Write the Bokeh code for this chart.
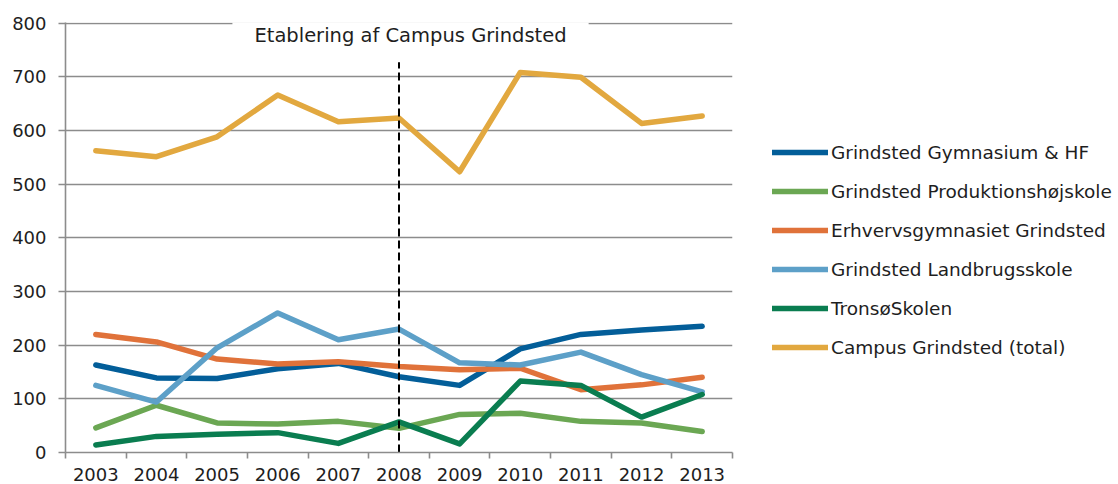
from bokeh.plotting import figure
from bokeh.models import FixedTicker, Label, Legend, LegendItem, Range1d
from bokeh.embed import file_html
from bokeh.resources import INLINE

years = [2003, 2004, 2005, 2006, 2007, 2008, 2009, 2010, 2011, 2012, 2013]
gymnasium = [163, 139, 138, 156, 166, 141, 125, 193, 220, 228, 235]
produktion = [46, 88, 55, 53, 58, 45, 71, 73, 58, 55, 39]
erhverv = [220, 206, 174, 165, 169, 160, 154, 157, 117, 126, 140]
landbrug = [125, 94, 195, 260, 210, 230, 167, 163, 187, 145, 113]
tronso = [14, 30, 34, 37, 17, 57, 16, 133, 125, 66, 108]
campus = [562, 551, 588, 666, 616, 623, 523, 708, 699, 613, 627]

series_names = [
    "Grindsted Gymnasium & HF",
    "Grindsted Produktionshøjskole",
    "Erhvervsgymnasiet Grindsted",
    "Grindsted Landbrugsskole",
    "TronsøSkolen",
    "Campus Grindsted (total)",
]
series_values = [gymnasium, produktion, erhverv, landbrug, tronso, campus]
series_colors = ["#035e99", "#6ba753", "#e0723a", "#5da0c8", "#0a7d50", "#e2a83f"]

y_ticks = [0, 100, 200, 300, 400, 500, 600, 700, 800]
event_year = 2008
event_top = 727
event_text = "Etablering af Campus Grindsted"
event_label_x = 2008.19
event_label_y = 777

FONT = "DejaVu Sans"
GRAY = "#8c8c8c"
TEXT = "#1e1e1e"

p = figure(frame_width=667, frame_height=430, output_backend="svg", toolbar_location=None,
           x_range=Range1d(years[0] - 0.5, years[-1] + 0.5),
           y_range=Range1d(y_ticks[0], y_ticks[-1] + 1),
           min_border_left=65, min_border_right=0, min_border_top=22,
           min_border_bottom=31)
p.outline_line_color = None
p.background_fill_color = "white"
p.border_fill_color = "white"

p.xgrid.visible = False
p.ygrid.grid_line_color = GRAY
p.ygrid.grid_line_width = 1.6

p.yaxis.ticker = FixedTicker(ticks=y_ticks)
p.yaxis.axis_line_color = GRAY
p.yaxis.axis_line_width = 1.6
p.yaxis.major_tick_line_color = GRAY
p.yaxis.major_tick_line_width = 1.6
p.yaxis.major_tick_out = 7
p.yaxis.major_tick_in = 0
p.yaxis.minor_tick_line_color = None
p.yaxis.major_label_standoff = 12
p.yaxis.major_label_text_font = FONT
p.yaxis.major_label_text_font_size = "18px"
p.yaxis.major_label_text_color = TEXT

bounds = [y - 0.5 for y in years] + [years[-1] + 0.5]
p.xaxis.ticker = FixedTicker(ticks=years, minor_ticks=bounds)
p.xaxis.axis_line_color = GRAY
p.xaxis.axis_line_width = 1.6
p.xaxis.major_tick_line_color = None
p.xaxis.major_tick_out = 0
p.xaxis.major_tick_in = 0
p.xaxis.minor_tick_line_color = GRAY
p.xaxis.minor_tick_line_width = 1.6
p.xaxis.minor_tick_out = 6
p.xaxis.minor_tick_in = 0
p.xaxis.major_label_standoff = 9
p.xaxis.major_label_text_font = FONT
p.xaxis.major_label_text_font_size = "18px"
p.xaxis.major_label_text_color = TEXT

renderers = []
for name, vals, col in zip(series_names, series_values, series_colors):
    r = p.line(years, vals, line_color=col, line_width=5.5,
               line_cap="round", line_join="round")
    renderers.append(r)

p.segment(x0=[event_year], y0=[y_ticks[0]], x1=[event_year], y1=[event_top],
          line_color="black", line_width=2, line_dash="8 4")

lbl = Label(x=event_label_x, y=event_label_y, text=event_text,
            text_align="center", text_baseline="middle",
            text_font=FONT, text_font_size="19.5px", text_color=TEXT,
            background_fill_color="white", padding=(22, 6))
p.add_layout(lbl)

items = [LegendItem(label=n, renderers=[r]) for n, r in zip(series_names, renderers)]
legend = Legend(items=items, location=(40, 94), orientation="vertical",
                glyph_width=56, glyph_height=22, label_height=22, spacing=17,
                label_standoff=3, padding=0, margin=0,
                border_line_color=None, background_fill_alpha=0,
                label_text_font=FONT, label_text_font_size="18.5px",
                label_text_color=TEXT)
p.add_layout(legend, "right")

open("out.html", "w").write(file_html(p, INLINE))
